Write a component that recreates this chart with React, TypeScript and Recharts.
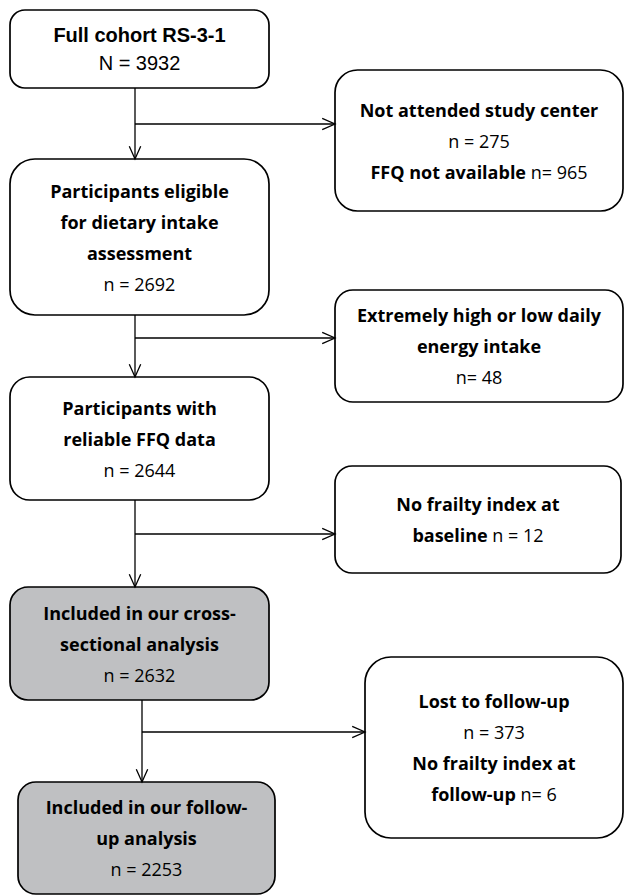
import React from "react";
import { ScatterChart, XAxis, YAxis, ReferenceArea, ReferenceLine } from "recharts";

const W = 625;
const H = 896;

// flow steps, **text** = bold part of a line
const steps = [
  { id: "cohort", lines: ["**Full cohort RS-3-1**", "N = 3932"] },
  { id: "notAttended", lines: ["**Not attended study center**", "n = 275", "**FFQ not available** n= 965"] },
  { id: "eligible", lines: ["**Participants eligible**", "**for dietary intake**", "**assessment**", "n = 2692"] },
  { id: "energy", lines: ["**Extremely high or low daily**", "**energy intake**", "n= 48"] },
  { id: "reliable", lines: ["**Participants with**", "**reliable FFQ data**", "n = 2644"] },
  { id: "noFrailty", lines: ["**No frailty index at**", "**baseline** n = 12"] },
  { id: "cross", lines: ["**Included in our cross-**", "**sectional analysis**", "n = 2632"] },
  { id: "lost", lines: ["**Lost to follow-up**", "n = 373", "**No frailty index at**", "**follow-up** n= 6"] },
  { id: "followup", lines: ["**Included in our follow-**", "**up analysis**", "n = 2253"] },
];

const included = ["cross", "followup"];

// box extents in chart units: [x1, x2, y1, y2]
const boxLayout: Record<string, number[]> = {
  cohort: [10, 269, 10, 88],
  notAttended: [335, 623, 70, 211],
  eligible: [10, 269, 159, 315],
  energy: [335, 623, 290, 402],
  reliable: [10, 269, 377, 500],
  noFrailty: [335, 621, 466, 573],
  cross: [10, 269, 587, 700],
  lost: [365, 623, 657, 838],
  followup: [18, 275, 782, 894],
};

// connectors: trunk [x, yFrom, yTo] and side branch [y, xFrom, xTo]
const trunks = [
  [135, 88, 159],
  [135, 315, 377],
  [135, 500, 587],
  [142, 700, 782],
];
const branches = [
  [124, 135, 335],
  [338, 135, 335],
  [534, 135, 335],
  [732, 142, 365],
];

function parse(line: string) {
  return line
    .split(/(\*\*[^*]+\*\*)/)
    .filter((s) => s.length)
    .map((s) => (s.startsWith("**") ? { t: s.slice(2, -2), b: true } : { t: s, b: false }));
}

function StepBox(props: any) {
  const { x, y, width, height, step } = props;
  const grey = included.includes(step.id);
  const arial = step.id === "cohort";
  const lh = arial ? 28 : 31;
  const cx = x + width / 2;
  const cy = y + height / 2;
  const n = step.lines.length;
  const r = Math.min(26, Math.max(15, height * 0.16));
  return (
    <g>
      <rect x={x} y={y} width={width} height={height} rx={r} ry={r} fill={grey ? "#bfc0c2" : "#fff"} stroke="#000" strokeWidth={1.7} />
      {step.lines.map((ln: string, i: number) => (
        <text
          key={i}
          x={cx}
          y={cy + (i - (n - 1) / 2) * lh}
          textAnchor="middle"
          dominantBaseline="central"
          fontFamily={arial ? "'Liberation Sans', Arial, sans-serif" : "'Open Sans', Lato, sans-serif"}
          fontSize={arial ? 20 : 18}
          fill="#000"
          style={{ whiteSpace: "pre" }}
        >
          {parse(ln).map((seg, j) => (
            <tspan key={j} fontWeight={seg.b ? 700 : 400}>
              {seg.t}
            </tspan>
          ))}
        </text>
      ))}
    </g>
  );
}

function Arrow(props: any) {
  const { x1, y1, x2, y2 } = props;
  const ang = Math.atan2(y2 - y1, x2 - x1);
  const len = 14;
  const spread = 0.42;
  const ax = x2 - len * Math.cos(ang - spread);
  const ay = y2 - len * Math.sin(ang - spread);
  const bx = x2 - len * Math.cos(ang + spread);
  const by = y2 - len * Math.sin(ang + spread);
  return (
    <g stroke="#000" strokeWidth={1.3} fill="none">
      <line x1={x1} y1={y1} x2={x2} y2={y2} />
      <polyline points={`${ax},${ay} ${x2},${y2} ${bx},${by}`} />
    </g>
  );
}

export default function App() {
  return (
    <div style={{ position: "absolute", left: 0, top: 0, width: W, height: H, background: "#fff" }}>
      <ScatterChart width={W} height={H} margin={{ top: 0, right: 0, bottom: 0, left: 0 }}>
        <XAxis type="number" dataKey="x" domain={[0, W]} hide allowDataOverflow />
        <YAxis type="number" dataKey="y" domain={[0, H]} reversed hide allowDataOverflow />
        {trunks.map(([x, a, b], i) => (
          <ReferenceLine key={"t" + i} segment={[{ x, y: a }, { x, y: b }]} ifOverflow="visible" shape={(p: any) => <Arrow {...p} />} />
        ))}
        {branches.map(([y, a, b], i) => (
          <ReferenceLine key={"b" + i} segment={[{ x: a, y }, { x: b, y }]} ifOverflow="visible" shape={(p: any) => <Arrow {...p} />} />
        ))}
        {steps.map((s) => {
          const [x1, x2, y1, y2] = boxLayout[s.id];
          return (
            <ReferenceArea
              key={s.id}
              x1={x1}
              x2={x2}
              y1={y1}
              y2={y2}
              ifOverflow="visible"
              shape={(p: any) => <StepBox {...p} step={s} />}
            />
          );
        })}
      </ScatterChart>
    </div>
  );
}
